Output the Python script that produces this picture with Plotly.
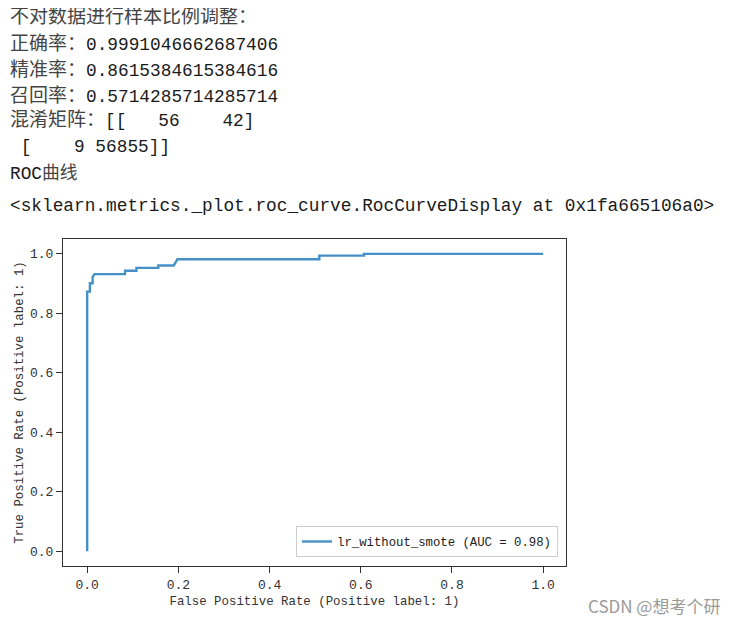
import plotly.graph_objects as go

# ROC curve points
fpr = [0.0, 0.0, 0.006, 0.006, 0.012, 0.012, 0.016, 0.083, 0.083, 0.108, 0.108,
       0.156, 0.156, 0.19, 0.198, 0.509, 0.509, 0.607, 0.607, 1.0]
tpr = [0.0, 0.873, 0.873, 0.901, 0.901, 0.922, 0.932, 0.932, 0.943, 0.943, 0.953,
       0.953, 0.961, 0.961, 0.982, 0.982, 0.994, 0.994, 1.0, 1.0]
curve_name = "lr_without_smote (AUC = 0.98)"

tick_vals = [0.0, 0.2, 0.4, 0.6, 0.8, 1.0]
tick_text = ["0.0", "0.2", "0.4", "0.6", "0.8", "1.0"]

# notebook output printed above the figure: (chinese label, value text)
output_lines = [
    ("不对数据进行样本比例调整：", ""),
    ("正确率：", "0.9991046662687406"),
    ("精准率：", "0.8615384615384616"),
    ("召回率：", "0.5714285714285714"),
    ("混淆矩阵：", "[[   56    42]"),
    ("", " [    9 56855]]"),
    ("", "ROC<span style=\"color:#444\">曲线</span>"),
    ("", "<sklearn.metrics._plot.roc_curve.RocCurveDisplay at 0x1fa665106a0>"),
]
line_y_px = [17, 45, 70, 96, 120, 147, 173, 206]

# the page body has an 8px margin, so the figure starts at (8, 8) in the window
OFF = 8
W, H = 737 - OFF, 622 - OFF
L, R, T, B = 63 - OFF, 566 - OFF, 239 - OFF, 566 - OFF  # plot frame


def px(x, y):
    """window pixel position -> paper coordinates"""
    return (x - OFF - L) / (R - L), (B - (y - OFF)) / (B - T)


MONO = "Liberation Mono, DejaVu Sans Mono, Noto Sans CJK SC, monospace"

fig = go.Figure()
fig.add_trace(go.Scatter(
    x=fpr, y=tpr, mode="lines", name=curve_name,
    line=dict(color="#4690c8", width=2.4),
))

for (cn, val), ypx in zip(output_lines, line_y_px):
    text = ""
    if cn:
        text += f'<span style="font-size:19px;color:#444">{cn}</span>'
    text += val
    ax, ay = px(8, ypx)
    fig.add_annotation(
        x=ax, y=ay, xref="paper", yref="paper", text=text, showarrow=False,
        xanchor="left", yanchor="middle", align="left",
        font=dict(family=MONO, size=17.8, color="#1a1a1a"),
    )

wx, wy = px(722, 605)
fig.add_annotation(
    x=wx, y=wy, xref="paper", yref="paper", text="CSDN @想考个研",
    showarrow=False, xanchor="right", yanchor="middle",
    font=dict(family="Noto Sans CJK SC, sans-serif", size=17, color="#9a9a9a"),
)

axis_common = dict(
    showline=True, mirror=True, linecolor="#333", linewidth=1,
    showgrid=False, zeroline=False, ticks="outside", ticklen=6,
    tickcolor="#333", tickwidth=1, tickvals=tick_vals, ticktext=tick_text,
    tickfont=dict(family=MONO, size=13, color="#333"), automargin=False,
)

fig.update_layout(
    width=W, height=H,
    margin=dict(l=L, r=W - R, t=T, b=H - B),
    paper_bgcolor="white", plot_bgcolor="white",
    xaxis=dict(range=[-0.053, 1.05], **axis_common,
               title=dict(text="False Positive Rate (Positive label: 1)",
                          font=dict(family=MONO, size=12.4, color="#333"),
                          standoff=4)),
    yaxis=dict(range=[-0.05, 1.05], **axis_common, ticklabelstandoff=0,
               title=dict(text="True Positive Rate (Positive label: 1)",
                          font=dict(family=MONO, size=12.4, color="#333"),
                          standoff=3)),
    legend=dict(x=px(558, 0)[0], y=px(0, 557)[1], xanchor="right", yanchor="bottom",
                bgcolor="white", bordercolor="#cccccc", borderwidth=1,
                font=dict(family=MONO, size=12.3, color="#222"),
                itemwidth=30),
    showlegend=True,
)

fig.write_html("out.html")
